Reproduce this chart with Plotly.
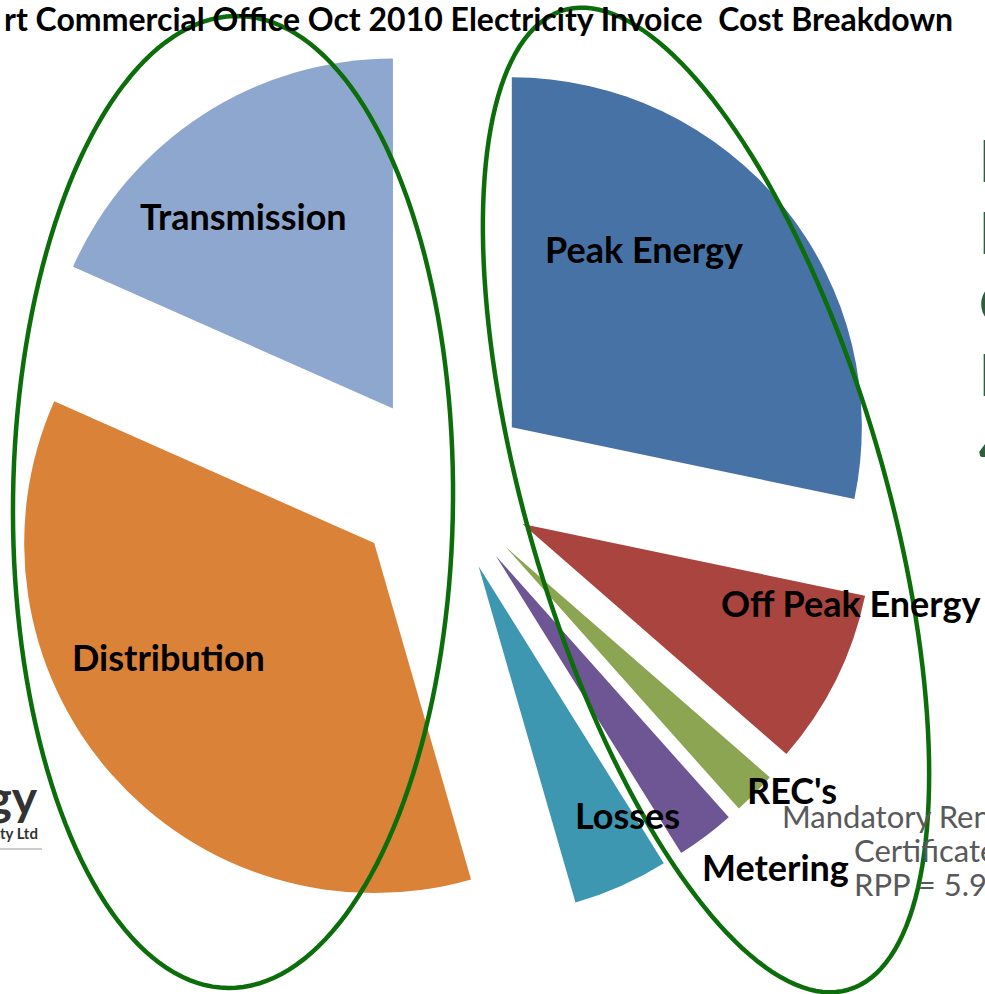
import numpy as np
import plotly.graph_objects as go

W, H = 985, 994

# ---- data (percent share of invoice cost) ----
categories = ["Peak Energy", "Off Peak Energy", "REC's", "Metering", "Losses", "Distribution", "Transmission"]
values = [28.2, 8.1, 2.0, 2.7, 4.4, 36.0, 18.3]
colors = ["#4672A6", "#A9443F", "#8BA552", "#6E5593", "#3E97B1", "#DA8238", "#8EA7CF"]
title_text = "rt Commercial Office Oct 2010 Electricity Invoice  Cost Breakdown"
side_lines = ["Mandatory Renewable Energy", "Certificates", "RPP = 5.98%"]
right_words = ["Peak", "Rate", "Off", "Peak", "4"]


def px(x):
    return x / W


def py(y):
    return 1 - y / H


# pie geometry (screen pixels)
cx, cy, R, PULL = 442, 484, 350, 0.257
half = R * (1 + PULL)
x0 = max(0.0, px(cx - half))
x1 = 2 * px(cx) - x0

fig = go.Figure(go.Pie(
    labels=categories,
    values=values,
    sort=False,
    direction="clockwise",
    rotation=0,
    pull=[PULL] * len(values),
    marker=dict(colors=colors, line=dict(width=0)),
    textinfo="none",
    hoverinfo="label+percent",
    showlegend=False,
    domain=dict(x=[x0, x1], y=[py(cy + half), py(cy - half)]),
))

ann = []


def add(text, x, y, size, color="#000000", bold=True, xanchor="center", family="Lato"):
    ann.append(dict(
        text=f"<b>{text}</b>" if bold else text,
        x=px(x), y=py(y), xref="paper", yref="paper",
        xanchor=xanchor, yanchor="middle", showarrow=False,
        font=dict(family=family, size=size, color=color),
    ))


# title (clipped at the left edge)
add(title_text, 955, 18, 32, xanchor="right")

# slice labels
LS = 36
add("Transmission", 243, 216, LS)
add("Peak Energy", 644, 249, LS)
add("Off Peak Energy", 851, 603, LS)
add("Distribution", 168, 657, LS)
add("Losses", 627, 815, LS)
add("REC's", 792, 790, LS)
add("Metering", 775, 867, LS)

# grey side note, clipped at right edge
add(side_lines[0], 780, 816, 31, color="#595959", bold=False, xanchor="left")
add(side_lines[1], 852, 850, 31, color="#595959", bold=False, xanchor="left")
add(side_lines[2], 852, 884, 31, color="#595959", bold=False, xanchor="left")

# big dark-green words at right edge (mostly clipped)
for i, w in enumerate(right_words):
    add(w, 977, 160 + i * 71, 58, color="#2D5F3B", xanchor="left")

# logo fragment at left edge
add("Energy", 40, 796, 48, color="#333333", xanchor="right")
add("Consultancy Pty Ltd", 40, 833, 15, color="#333333", xanchor="right")


def ellipse_path(ecx, ecy, a, b, phi_deg, n=180):
    phi = np.radians(phi_deg)
    t = np.linspace(0, 2 * np.pi, n)
    ux, uy = np.sin(phi), np.cos(phi)       # major axis (downwards)
    vx, vy = np.cos(phi), -np.sin(phi)      # minor axis
    xs = ecx + a * np.cos(t) * ux + b * np.sin(t) * vx
    ys = ecy + a * np.cos(t) * uy + b * np.sin(t) * vy
    pts = [f"{px(x):.5f},{py(y):.5f}" for x, y in zip(xs, ys)]
    return "M" + " L".join(pts) + " Z"


shapes = [
    dict(type="path", xref="paper", yref="paper", path=ellipse_path(233, 502, 486, 220, -0.6),
         line=dict(color="#0B6E0B", width=4.5)),
    dict(type="path", xref="paper", yref="paper", path=ellipse_path(706, 500, 510, 179, 16.2),
         line=dict(color="#0B6E0B", width=4.5)),
    dict(type="line", xref="paper", yref="paper", x0=px(0), x1=px(42), y0=py(849), y1=py(849),
         line=dict(color="#9A9A9A", width=1)),
]

fig.update_layout(
    width=W, height=H,
    margin=dict(l=0, r=0, t=0, b=0),
    paper_bgcolor="white", plot_bgcolor="white",
    annotations=ann, shapes=shapes,
)

fig.write_html(
    "out.html",
    config={"displayModeBar": False},
    post_script="document.body.style.margin='0';document.body.style.overflow='hidden';",
)
